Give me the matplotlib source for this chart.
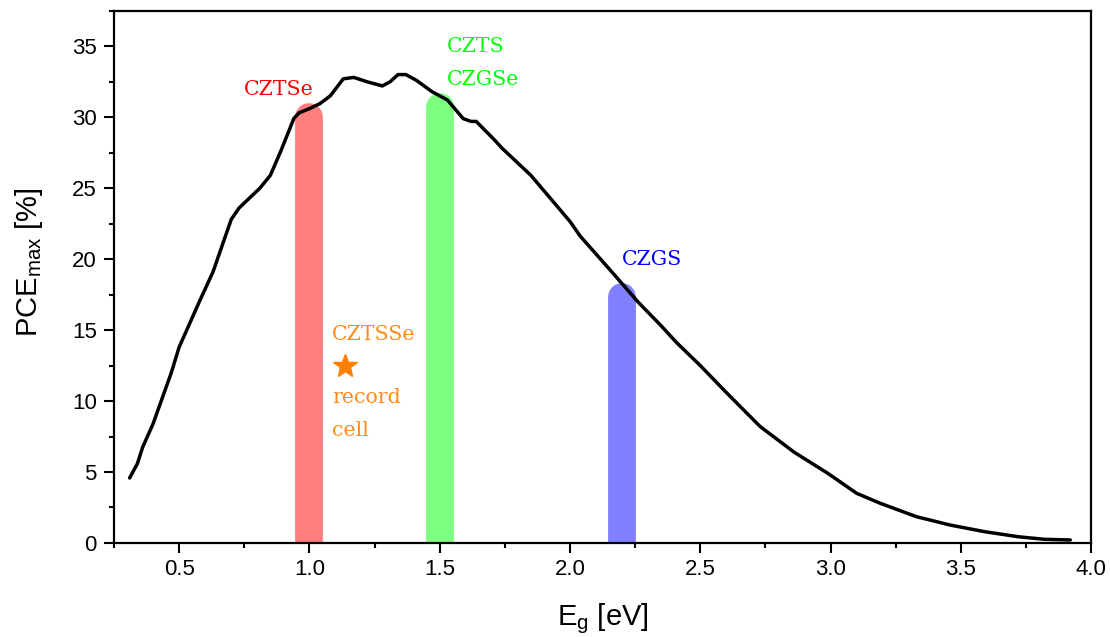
import matplotlib
matplotlib.use("Agg")
import matplotlib.pyplot as plt
from matplotlib.ticker import MultipleLocator

plt.rcParams['font.family'] = ['Liberation Sans', 'DejaVu Sans']
plt.rcParams['mathtext.fontset'] = 'custom'
plt.rcParams['mathtext.rm'] = 'Liberation Sans'

# Maximum efficiency vs band gap
eg = [0.31, 0.34, 0.36, 0.40, 0.47, 0.50, 0.58, 0.63, 0.70, 0.73, 0.77, 0.81,
      0.85, 0.89, 0.94, 0.96, 1.00, 1.04, 1.08, 1.13, 1.17, 1.22, 1.28, 1.31,
      1.34, 1.37, 1.41, 1.47, 1.53, 1.59, 1.62, 1.64, 1.71, 1.74, 1.85, 2.00,
      2.04, 2.17, 2.26, 2.35, 2.41, 2.50, 2.60, 2.73, 2.86, 2.99, 3.10, 3.19,
      3.33, 3.46, 3.59, 3.72, 3.82, 3.92]
pce = [4.58, 5.6, 6.75, 8.4, 12.0, 13.8, 17.1, 19.1, 22.8, 23.6, 24.3, 25.0,
       25.9, 27.6, 29.9, 30.3, 30.6, 30.95, 31.5, 32.7, 32.8, 32.5, 32.2, 32.5,
       33.0, 33.0, 32.6, 31.8, 31.2, 29.9, 29.7, 29.7, 28.4, 27.8, 25.9, 22.65,
       21.6, 18.9, 17.0, 15.3, 14.1, 12.5, 10.6, 8.2, 6.4, 4.9, 3.5, 2.8,
       1.85, 1.26, 0.8, 0.44, 0.26, 0.21]

# Absorber band gaps and the efficiency level each band reaches
band_names = [["CZTSe"], ["CZTS", "CZGSe"], ["CZGS"]]
band_eg = [1.0, 1.5, 2.2]
band_top = [30.0, 30.7, 17.3]
band_colors = ["#ff0000", "#00ff00", "#0000ff"]
band_label_xy = [(0.75, 31.55), (1.526, 34.57), (2.201, 19.6)]

# Record cell
record_eg = 1.135
record_pce = 12.5
record_lines = ["CZTSSe", "record", "cell"]
record_line_y = [14.28, 9.84, 7.57]

fig = plt.figure(figsize=(11.10, 6.37), dpi=100)
ax = fig.add_axes([0.1027, 0.1476, 0.8803, 0.8356])

for x, top, c in zip(band_eg, band_top, band_colors):
    ax.plot([x, x], [-5, top], color=c, alpha=0.5, lw=20,
            solid_capstyle='round', zorder=1)

ax.plot(eg, pce, color='black', lw=2.5, zorder=3,
        solid_joinstyle='round', solid_capstyle='round')

serif = ['DejaVu Serif']
text_size = 14.8
line_step = 2.27  # data units between stacked label lines

for lines, (tx, ty), c in zip(band_names, band_label_xy, band_colors):
    for i, line in enumerate(lines):
        ax.text(tx, ty - i * line_step, line, color=c, fontsize=text_size,
                family=serif, ha='left', va='baseline', zorder=4)

orange = '#ff8c1a'
for line, y in zip(record_lines, record_line_y):
    ax.text(1.086, y, line, color=orange, fontsize=text_size, family=serif,
            ha='left', va='baseline')
ax.plot([record_eg], [record_pce], marker='*', color='#ff8000', ms=18,
        mec='#ff8000', zorder=4)

ax.set_xlim(0.25, 4.0)
ax.set_ylim(0, 37.5)
ax.xaxis.set_major_locator(MultipleLocator(0.5))
ax.xaxis.set_minor_locator(MultipleLocator(0.25))
ax.yaxis.set_major_locator(MultipleLocator(5))
ax.yaxis.set_minor_locator(MultipleLocator(2.5))
ax.set_xticks([0.5, 1.0, 1.5, 2.0, 2.5, 3.0, 3.5, 4.0])
ax.set_xticklabels(["0.5", "1.0", "1.5", "2.0", "2.5", "3.0", "3.5", "4.0"])

ax.tick_params(which='major', direction='out', length=7.5, width=1.5,
               labelsize=16)
ax.tick_params(which='minor', direction='out', length=3.5, width=1.5)
ax.tick_params(axis='x', which='major', pad=4)
ax.tick_params(axis='y', which='major', pad=5)
for s in ax.spines.values():
    s.set_linewidth(1.6)

ax.set_xlabel(r"E$_\mathregular{g}$ [eV]", fontsize=21)
ax.set_ylabel(r"PCE$_\mathregular{max}$ [%]", fontsize=21)
ax.xaxis.set_label_coords(0.5, -0.109)
ax.yaxis.set_label_coords(-0.0706, 0.527)

fig.savefig("out.png", dpi=100)
